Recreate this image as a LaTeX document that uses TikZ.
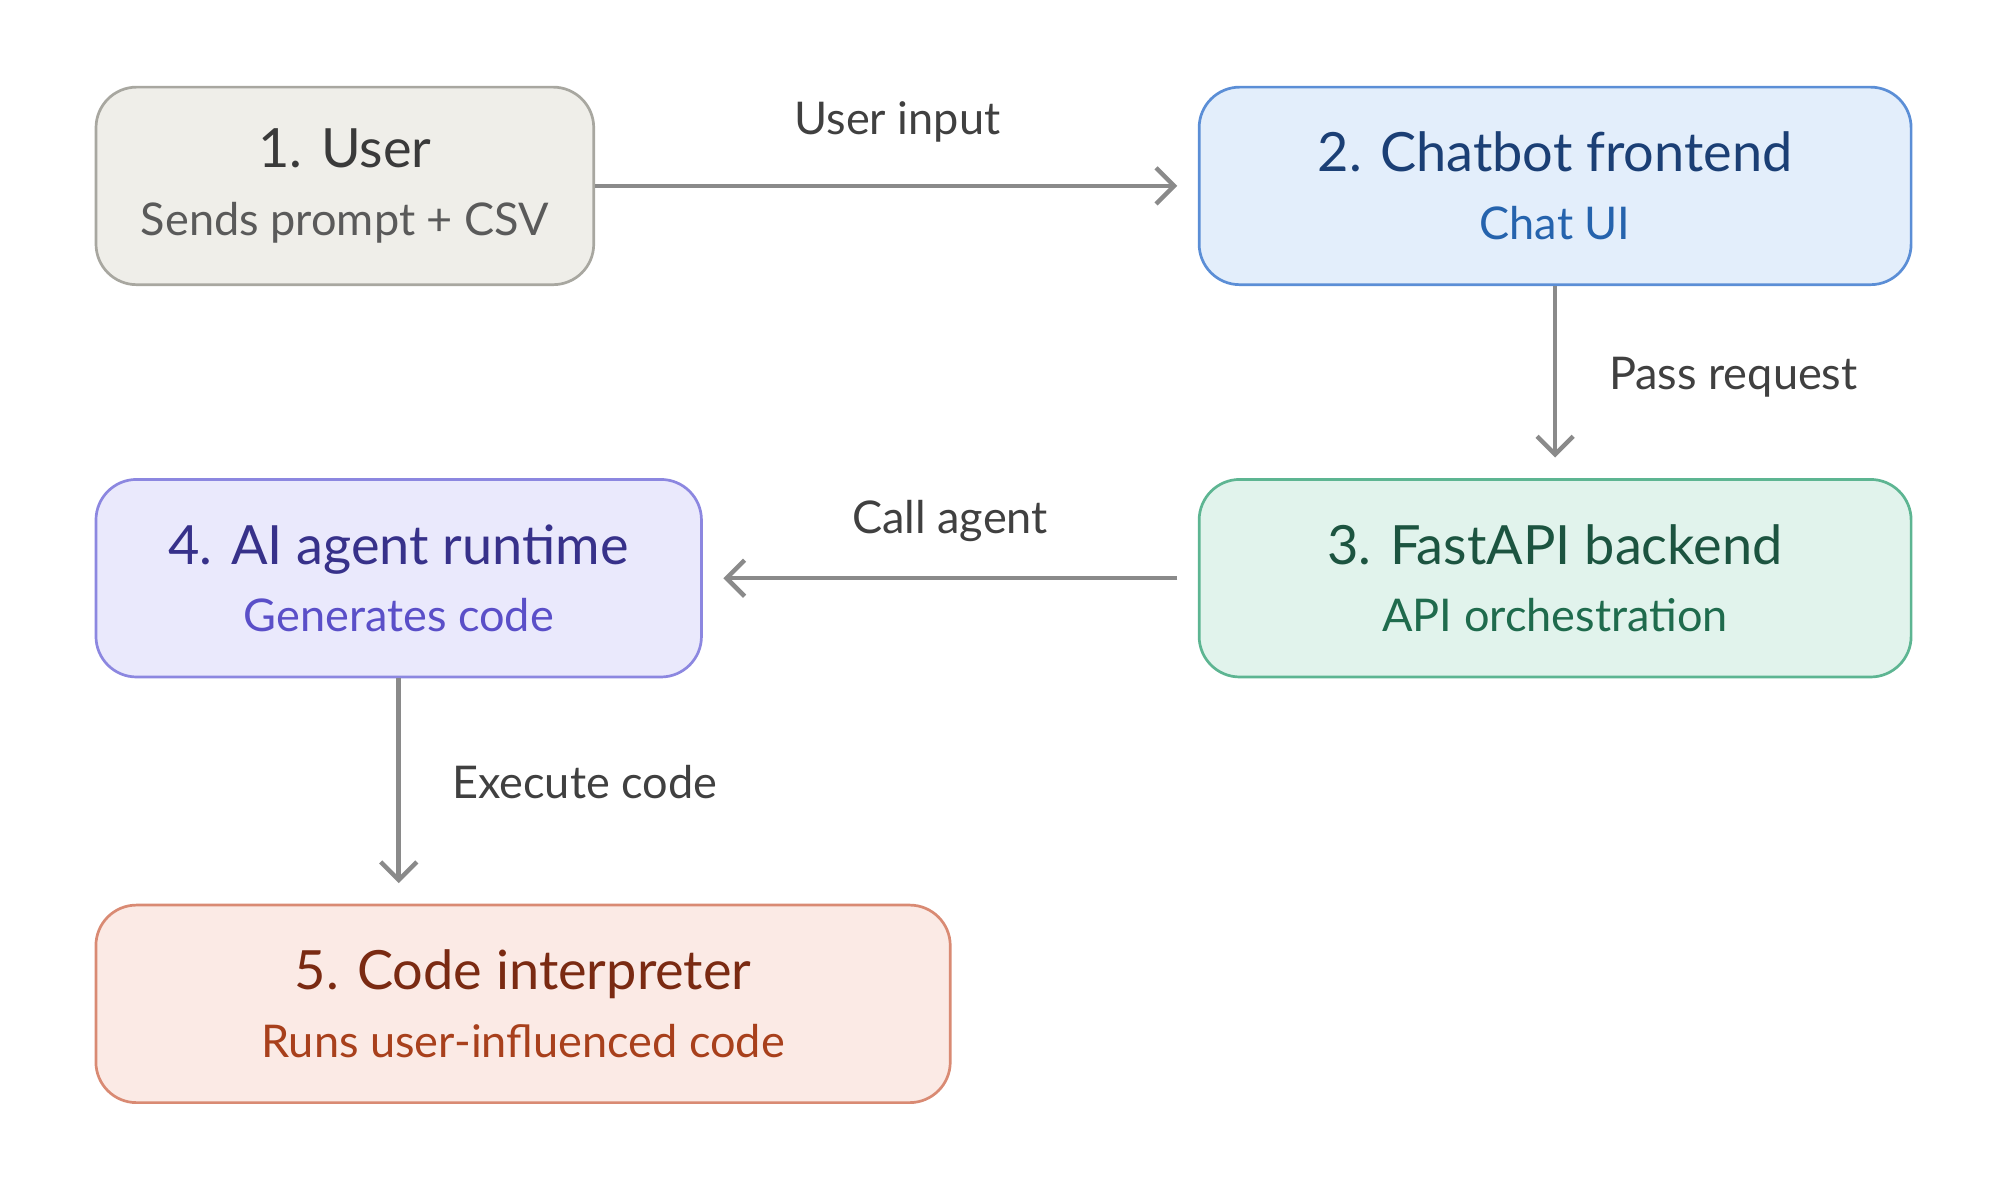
\documentclass[tikz,border=0pt]{standalone}
\usepackage{fontspec}
\setmainfont{Lato}
\usetikzlibrary{arrows.meta,positioning}
\definecolor{grayline}{HTML}{8A8A8A}
\definecolor{userfill}{HTML}{EFEEE9}
\definecolor{userdraw}{HTML}{A8A7A0}
\definecolor{usertitle}{HTML}{3A3A3A}
\definecolor{usersub}{HTML}{5A5A5A}
\definecolor{frontfill}{HTML}{E3EEFB}
\definecolor{frontdraw}{HTML}{5B8ED6}
\definecolor{fronttitle}{HTML}{1B3F75}
\definecolor{frontsub}{HTML}{2563AD}
\definecolor{backfill}{HTML}{E1F3EC}
\definecolor{backdraw}{HTML}{5DB592}
\definecolor{backtitle}{HTML}{1C5440}
\definecolor{backsub}{HTML}{1F6B4D}
\definecolor{agentfill}{HTML}{EAE9FC}
\definecolor{agentdraw}{HTML}{8C87E0}
\definecolor{agenttitle}{HTML}{37318A}
\definecolor{agentsub}{HTML}{5A4FC8}
\definecolor{interpfill}{HTML}{FBEAE5}
\definecolor{interpdraw}{HTML}{D98A73}
\definecolor{interptitle}{HTML}{7A2A12}
\definecolor{interpsub}{HTML}{A8401C}
\tikzset{
  stage/.style={draw, rounded corners=9pt, line width=0.6pt, align=center, inner sep=0pt, minimum height=1.54cm},
  flow/.style={-{Straight Barb[length=4pt,width=8pt]}, grayline, line width=1pt},
  lbl/.style={font=\fontsize{10}{12}\selectfont, text=black!75},
}
\newcommand{\stagetext}[4]{{\fontsize{12}{15}\selectfont\color{#1}#2}\\[3pt]{\fontsize{10}{12}\selectfont\color{#3}#4}}
\begin{document}
\begin{tikzpicture}[x=0.01cm,y=-0.01cm]
	\useasboundingbox (0,0) rectangle (1560,936);
	
	\node[stage, draw=userdraw, fill=userfill, minimum width=3.88cm] (user) at (269,145)
		{\stagetext{usertitle}{1. User}{usersub}{Sends prompt + CSV}};
	\node[stage, draw=frontdraw, fill=frontfill, minimum width=5.55cm] (front) at (1213,145)
		{\stagetext{fronttitle}{2. Chatbot frontend}{frontsub}{Chat UI}};
	\node[stage, draw=backdraw, fill=backfill, minimum width=5.55cm] (back) at (1213,451)
		{\stagetext{backtitle}{3. FastAPI backend}{backsub}{API orchestration}};
	\node[stage, draw=agentdraw, fill=agentfill, minimum width=4.72cm] (agent) at (311,451)
		{\stagetext{agenttitle}{4. AI agent runtime}{agentsub}{Generates code}};
	\node[stage, draw=interpdraw, fill=interpfill, minimum width=6.66cm] (interp) at (408,783)
		{\stagetext{interptitle}{5. Code interpreter}{interpsub}{Runs user-influenced code}};
	
	% connectors
	\draw[flow, shorten >=0.16cm] (user) -- (front);
	\draw[flow, shorten >=0.16cm] (front) -- (back);
	\draw[flow, shorten <=0.16cm, shorten >=0.16cm] (back) -- (agent);
	\draw[flow, shorten >=0.16cm] (agent) -- (agent |- interp.north);
	\node[lbl] (l1) at (700,95) {User input};
	\node[lbl] (l2) at (1352,294) {Pass request};
	\node[lbl] (l3) at (741,406) {Call agent};
	\node[lbl] (l4) at (456,610) {Execute code};
\end{tikzpicture}
\end{document}
